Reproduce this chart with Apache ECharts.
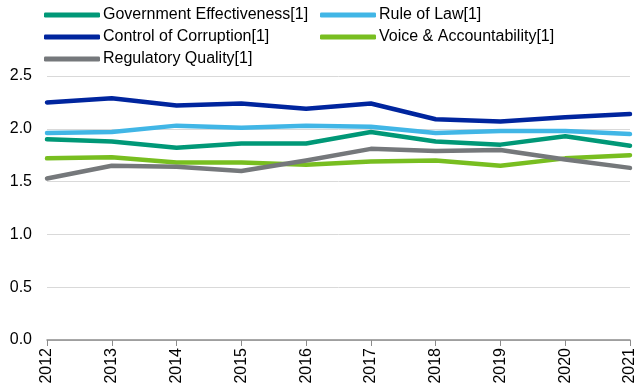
<!DOCTYPE html>
<html><head><meta charset="utf-8">
<script src="https://cdn.jsdelivr.net/npm/echarts@6/dist/echarts.min.js"></script>
<style>html,body{margin:0;padding:0;background:#fff}#c{width:638px;height:389px}</style>
</head><body><div id="c"></div>
<script>
const years = ['2012','2013','2014','2015','2016','2017','2018','2019','2020','2021'];
const govEff = [1.90, 1.88, 1.82, 1.86, 1.86, 1.97, 1.88, 1.85, 1.93, 1.84];
const ruleLaw = [1.96, 1.97, 2.03, 2.01, 2.03, 2.02, 1.96, 1.98, 1.98, 1.95];
const corruption = [2.25, 2.29, 2.22, 2.24, 2.19, 2.24, 2.09, 2.07, 2.11, 2.14];
const voice = [1.72, 1.73, 1.68, 1.68, 1.66, 1.69, 1.70, 1.65, 1.72, 1.75];
const regQual = [1.53, 1.65, 1.64, 1.60, 1.70, 1.81, 1.79, 1.80, 1.71, 1.63];
const yTicks = [0, 0.5, 1.0, 1.5, 2.0, 2.5];

const FONT = '"Liberation Sans", Arial, sans-serif';
const seriesDefs = [
  {name:'Government Effectiveness[1]', data: govEff, color:'#009877'},
  {name:'Rule of Law[1]', data: ruleLaw, color:'#41B6E6'},
  {name:'Control of Corruption[1]', data: corruption, color:'#00259E'},
  {name:'Voice & Accountability[1]', data: voice, color:'#78BE20'},
  {name:'Regulatory Quality[1]', data: regQual, color:'#75787B'}
];
const legendCommon = {
  orient:'vertical', itemWidth:56, itemHeight:5, itemGap:6,
  icon:'roundRect',
  textStyle:{fontFamily:FONT, fontSize:16, color:'#000', padding:[0,0,0,-2]},
  padding:0
};
const chart = echarts.init(document.getElementById('c'));
chart.setOption({
  animation:false,
  legend:[
    Object.assign({left:44, top:7, data:[seriesDefs[0].name, seriesDefs[2].name, seriesDefs[4].name]}, legendCommon),
    Object.assign({left:320, top:7, data:[seriesDefs[1].name, seriesDefs[3].name]}, legendCommon)
  ],
  grid:{left:47, right:5, top:76, bottom:49, containLabel:false},
  xAxis:{
    type:'category', data:years, boundaryGap:false,
    axisLine:{lineStyle:{color:'#8c8c8c', width:1.5}},
    axisTick:{show:true, length:6, lineStyle:{color:'#8c8c8c'}},
    axisLabel:{rotate:90, fontFamily:FONT, fontSize:16, color:'#000', margin:8, interval:0}
  },
  yAxis:{
    type:'value', min:yTicks[0], max:yTicks[yTicks.length-1], interval:0.5,
    axisLine:{show:false}, axisTick:{show:false},
    splitLine:{lineStyle:{color:'#d9d9d9', width:1}},
    axisLabel:{fontFamily:FONT, fontSize:16, color:'#000', margin:15, formatter:v=>v.toFixed(1)}
  },
  series: seriesDefs.map(s=>({
    name:s.name, type:'line', data:s.data, symbol:'none',
    lineStyle:{color:s.color, width:4.5, cap:'round', join:'round'},
    itemStyle:{color:s.color}
  }))
});
</script></body></html>
